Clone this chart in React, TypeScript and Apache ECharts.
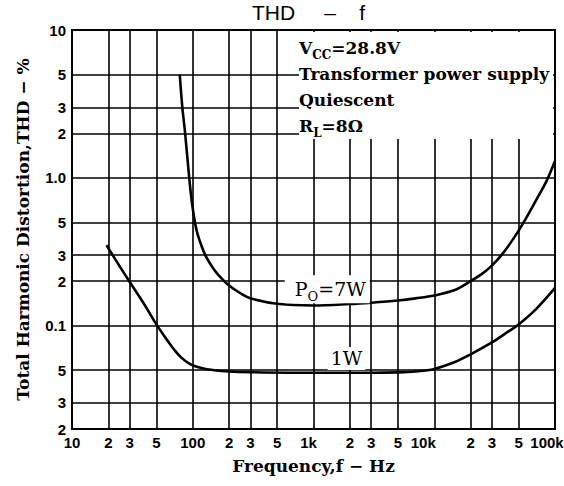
import React, { useEffect, useRef } from 'react';
import * as echarts from 'echarts';

// ---- data ----
const freq7W = [78, 82, 86.5, 93.5, 98, 102.3, 107, 113, 127, 150, 170, 195, 250, 300, 520, 1000, 2000, 3000, 5000, 7000, 10000, 15000, 20000, 25000, 30000, 36000, 45000, 55000, 70000, 85000, 100000];
const thd7W = [5, 3, 2, 1.0, 0.7, 0.55, 0.45, 0.385, 0.3, 0.24, 0.212, 0.19, 0.165, 0.153, 0.14, 0.137, 0.14, 0.143, 0.148, 0.153, 0.16, 0.175, 0.2, 0.225, 0.255, 0.3, 0.385, 0.5, 0.71, 0.95, 1.3];

const freq1W = [19.3, 25, 30, 40, 50, 60, 70, 80, 95, 120, 150, 200, 300, 1000, 3000, 5000, 7000, 10000, 15000, 20000, 30000, 40000, 50000, 70000, 100000];
const thd1W = [0.35, 0.25, 0.198, 0.138, 0.102, 0.082, 0.069, 0.061, 0.055, 0.0515, 0.05, 0.049, 0.0485, 0.048, 0.048, 0.0483, 0.049, 0.051, 0.057, 0.064, 0.077, 0.09, 0.102, 0.13, 0.18];

const xTickValues = [10, 20, 30, 50, 100, 200, 300, 500, 1000, 2000, 3000, 5000, 10000, 20000, 30000, 50000, 100000];
const xTickLabels = ['10', '2', '3', '5', '100', '2', '3', '5', '1k', '2', '3', '5', '10k', '2', '3', '5', '100k'];
const yTickValues = [10, 5, 3, 2, 1, 0.5, 0.3, 0.2, 0.1, 0.05, 0.03, 0.02];
const yTickLabels = ['10', '5', '3', '2', '1.0', '5', '3', '2', '0.1', '5', '3', '2'];

const label7W = { f: 1300, v: 0.176, text: 'P{s|O}=7W' };
const label1W = { f: 1875, v: 0.06, text: '1W' };

const conditionLines = ['V{s|CC}=28.8V', 'Transformer power supply', 'Quiescent', 'R{s|L}=8Ω'];

const NB = '\u00a0';
const titleText = `THD${NB.repeat(5)}\u2013${NB.repeat(4)}f`;
const xName = 'Frequency,f \u2212 Hz';
const yName = 'Total Harmonic Distortion,THD \u2212 %';

// ---- styles ----
const SERIF = "'DejaVu Serif', 'Liberation Serif', serif";
const SANS_NARROW = "'Liberation Sans Narrow', 'Liberation Sans', 'DejaVu Sans', sans-serif";
const SANS = "'Liberation Sans', 'DejaVu Sans', sans-serif";

const GRID = { left: 72, right: 9, top: 30, bottom: 57 };

// horizontal label nudges for a few x tick labels (as in the reference)
const xLabelOffset: Record<string, number> = { '1k': -5, '10k': -11, '100k': -8 };

function buildOption() {
  const xLines = xTickValues.map((v, i) => {
    const name = xTickLabels[i];
    const off = xLabelOffset[name];
    return off ? { xAxis: v, name, label: { offset: [off, 0] } } : { xAxis: v, name };
  });
  const yLines = yTickValues.map((v, i) => ({ yAxis: v, name: yTickLabels[i] }));

  const subRich = {
    s: { fontSize: 12, fontFamily: SERIF, fontWeight: 'bold', verticalAlign: 'bottom', lineHeight: 26, color: '#000' },
  };
  const subRichLight = {
    s: { fontSize: 13, fontFamily: SERIF, fontWeight: 'normal', verticalAlign: 'bottom', lineHeight: 28, color: '#000' },
  };

  const graphic: any[] = [
    {
      type: 'rect',
      z: 10,
      shape: { x: 299, y: 32, width: 254, height: 107 },
      style: { fill: '#fff' },
      silent: true,
    },
  ];
  const lineY = [48, 74, 100, 126];
  conditionLines.forEach((t, i) => {
    graphic.push({
      type: 'text',
      z: 11,
      x: 299,
      y: lineY[i],
      style: {
        text: t,
        fontFamily: SERIF,
        fontWeight: 'bold',
        fontSize: 17,
        fill: '#000',
        verticalAlign: 'middle',
        align: 'left',
        rich: subRich,
      },
    });
  });

  return {
    animation: false,
    backgroundColor: '#fff',
    title: {
      text: titleText,
      left: 252,
      top: 2,
      padding: 0,
      textStyle: { fontFamily: SANS, fontWeight: 'normal', fontSize: 21, color: '#000' },
    },
    grid: {
      ...GRID,
      show: true,
      borderColor: '#000',
      borderWidth: 2,
      backgroundColor: 'transparent',
      containLabel: false,
      outerBoundsMode: 'none',
    },
    xAxis: {
      type: 'log',
      logBase: 10,
      min: 10,
      max: 100000,
      name: xName,
      nameLocation: 'middle',
      nameGap: 28,
      nameTextStyle: { fontFamily: SERIF, fontWeight: 'bold', fontSize: 17, color: '#000' },
      axisLine: { show: true, lineStyle: { color: '#000', width: 2 } },
      axisTick: { show: false },
      axisLabel: { show: false },
      splitLine: { show: false },
      minorSplitLine: { show: false },
    },
    yAxis: {
      type: 'log',
      logBase: 10,
      min: 0.02,
      max: 10,
      name: yName,
      nameLocation: 'middle',
      nameGap: 41,
      nameTextStyle: { fontFamily: SERIF, fontWeight: 'bold', fontSize: 17, color: '#000' },
      axisLine: { show: true, lineStyle: { color: '#000', width: 2 } },
      axisTick: { show: false },
      axisLabel: { show: false },
      splitLine: { show: false },
      minorSplitLine: { show: false },
    },
    graphic,
    series: [
      {
        name: 'grid',
        type: 'line',
        data: [],
        z: 1,
        silent: true,
        markLine: {
          silent: true,
          symbol: ['none', 'none'],
          animation: false,
          lineStyle: { color: '#000', width: 1.6, type: 'solid' },
          label: {
            show: true,
            position: 'start',
            distance: 6,
            formatter: (p: any) => p.name,
            fontFamily: SANS_NARROW,
            fontWeight: 'bold',
            fontSize: 15,
            color: '#000',
          },
          emphasis: { disabled: true },
          data: [...xLines, ...yLines],
        },
      },
      {
        name: 'PO=7W',
        type: 'line',
        z: 3,
        data: freq7W.map((f, i) => [f, thd7W[i]]),
        symbol: 'none',
        smooth: 0.35,
        lineStyle: { color: '#000', width: 2.6 },
        markPoint: {
          silent: true,
          symbolSize: 0,
          z: 5,
          label: {
            show: true,
            position: 'inside',
            formatter: label7W.text,
            fontFamily: SERIF,
            fontSize: 19,
            color: '#000',
            backgroundColor: '#fff',
            padding: [0, 4, 0, 10],
            rich: subRichLight,
          },
          data: [{ coord: [label7W.f, label7W.v] }],
        },
      },
      {
        name: '1W',
        type: 'line',
        z: 3,
        data: freq1W.map((f, i) => [f, thd1W[i]]),
        symbol: 'none',
        smooth: 0.35,
        lineStyle: { color: '#000', width: 2.6 },
        markPoint: {
          silent: true,
          symbolSize: 0,
          z: 5,
          label: {
            show: true,
            position: 'inside',
            formatter: label1W.text,
            fontFamily: SERIF,
            fontSize: 19,
            color: '#000',
            backgroundColor: '#fff',
            padding: [2, 3],
          },
          data: [{ coord: [label1W.f, label1W.v] }],
        },
      },
    ],
  };
}

export default function App() {
  const ref = useRef<HTMLDivElement>(null);
  useEffect(() => {
    if (!ref.current) return;
    const chart = echarts.init(ref.current, null, { renderer: 'svg' });
    chart.setOption(buildOption() as any);
    return () => chart.dispose();
  }, []);
  return (
    <div
      ref={ref}
      style={{ position: 'fixed', left: 0, top: 0, width: 564, height: 486, background: '#fff' }}
    />
  );
}
